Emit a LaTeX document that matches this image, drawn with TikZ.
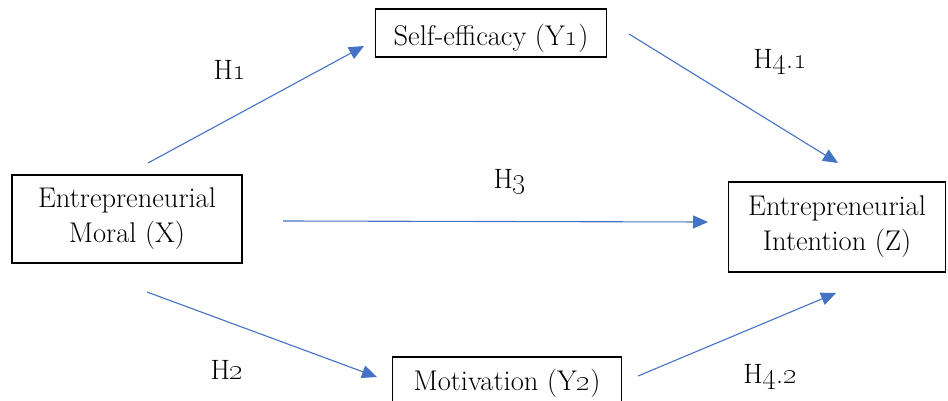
\documentclass[tikz,border=0pt]{standalone}
\usepackage{tikz}
\usetikzlibrary{arrows.meta}
\usetikzlibrary{positioning}
\definecolor{pathblue}{HTML}{4472C4}
\begin{document}
\begin{tikzpicture}[x=1pt,y=-1pt,
    varbox/.style={draw,line width=1.2pt,align=center,inner sep=0pt,
      font=\fontsize{28.5}{35}\selectfont},
    hyp/.style={font=\fontsize{28}{32}\selectfont},
    path arrow/.style={pathblue,line width=1.1pt,-{Triangle[length=15,width=13]}}]
          \clip (0,0) rectangle (948,401);

          % variables
          \node[varbox,minimum width=230,minimum height=88] (moral) at (127,219) {Entrepreneurial\\Moral (X)};
          \node[varbox,minimum width=231,minimum height=48] (efficacy) at (491,33) {};
          \node[font=\fontsize{28.5}{35}\selectfont] (efftext) at (491,38) {Self-efficacy (Y\oldstylenums{1})};
          \node[varbox,minimum width=229,minimum height=52] (motiv) at (507,383) {Motivation (Y\oldstylenums{2})};
          \node[varbox,minimum width=217,minimum height=90] (intent) at (837,227) {Entrepreneurial\\Intention (Z)};

          % arrow ends
          \coordinate (h1s) at (148,163);
          \coordinate (h1e) at (364,46);
          \coordinate (h2s) at (147,292);
          \coordinate (h2e) at (377,377);
          \coordinate (h3s) at (283,221);
          \coordinate (h3e) at (708,222);
          \coordinate (h41s) at (629,34);
          \coordinate (h41e) at (838,163);
          \coordinate (h42s) at (638,376);
          \coordinate (h42e) at (836,293);

          \draw[path arrow] (h1s) -- (h1e);
          \draw[path arrow] (h2s) -- (h2e);
          \draw[path arrow] (h3s) -- (h3e);
          \draw[path arrow] (h41s) -- (h41e);
          \draw[path arrow] (h42s) -- (h42e);

          % hypotheses
          \node[hyp] (lh1) at (230,70) {H\oldstylenums{1}};
          \node[hyp] (lh2) at (227,370) {H\oldstylenums{2}};
          \node[hyp] (lh3) at (510,182) {H\oldstylenums{3}};
          \node[hyp] (lh41) at (780,62) {H\oldstylenums{4}.\oldstylenums{1}};
          \node[hyp] (lh42) at (770,377) {H\oldstylenums{4}.\oldstylenums{2}};
\end{tikzpicture}
\end{document}
